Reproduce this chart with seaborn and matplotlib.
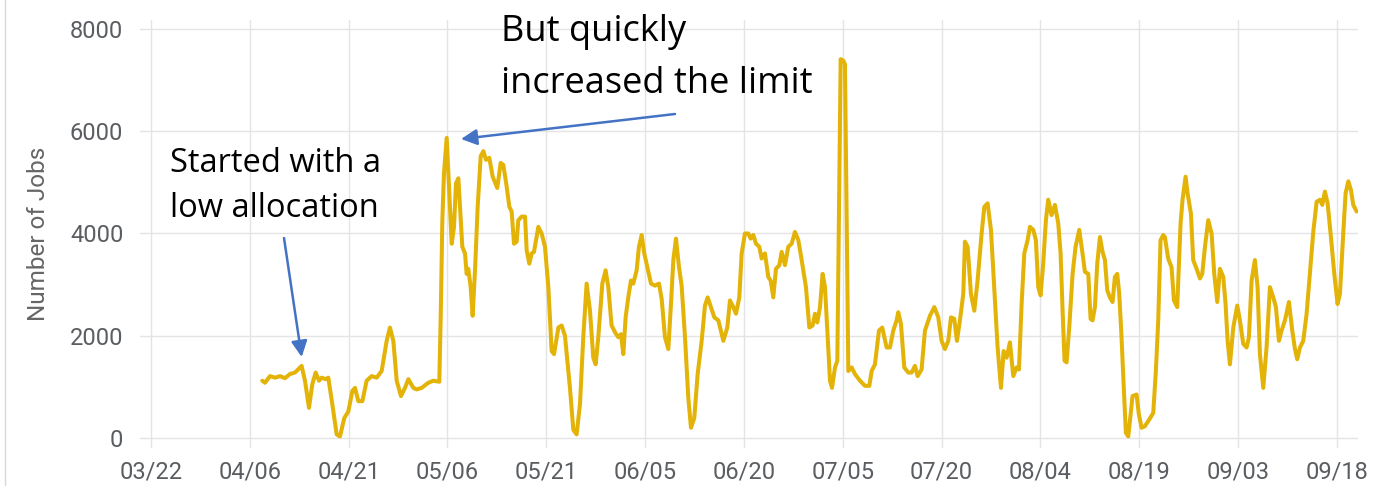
import pandas as pd
import numpy as np
import matplotlib.pyplot as plt
import seaborn as sns
from matplotlib.lines import Line2D

# Data: days after 03/22 and number of jobs
apr_days = [16.89, 17.30, 18.06, 18.82, 19.58, 20.33, 21.09, 21.85, 22.86, 23.37,
            23.98, 24.48, 24.99, 25.50, 25.90, 26.51, 26.91, 27.52, 28.18, 28.68,
            29.34, 29.95, 30.56, 30.96, 31.47, 32.08, 32.73, 33.49, 34.25, 35.01,
            35.77, 36.27, 36.78, 37.29, 37.94, 38.55, 39.06, 39.82, 40.32, 41.08,
            42.09, 42.85, 43.76]
apr_jobs = [1120, 1080, 1210, 1180, 1210, 1170, 1250, 1280, 1410, 1120,
            590, 1050, 1280, 1120, 1180, 1150, 1180, 660, 70, 30,
            390, 520, 920, 980, 720, 720, 1120, 1210, 1180, 1310,
            1900, 2160, 1900, 1120, 820, 980, 1150, 980, 950, 980,
            1080, 1120, 1100]

may_days = [43.96, 44.22, 44.47, 44.88, 45.23, 45.64, 45.99, 46.29, 46.65, 46.90,
            47.25, 47.66, 47.91, 48.16, 48.52, 48.82, 49.18, 49.58, 50.04, 50.44,
            50.85, 51.35, 51.86, 52.56, 53.07, 53.48, 53.98, 54.39, 54.74, 55.10,
            55.50, 55.75, 56.26, 56.77, 57.02, 57.42, 57.78, 58.13, 58.79, 59.29,
            59.80, 60.31, 60.81, 61.17, 61.83, 62.33, 62.83, 63.59, 64.10, 64.60,
            65.11, 65.61, 66.12, 66.63, 67.13, 67.49, 67.89, 68.50, 69.00, 69.41,
            69.91, 70.42, 70.93]
may_jobs = [2300, 4260, 5180, 5870, 4920, 3800, 4130, 4980, 5080, 4520,
            3740, 3610, 3210, 3310, 2950, 2390, 3280, 4520, 5510, 5610,
            5440, 5480, 5110, 4890, 5380, 5340, 4920, 4520, 4430, 3800,
            3840, 4260, 4330, 4330, 3670, 3410, 3610, 3640, 4130, 4000,
            3740, 2950, 1700, 1640, 2160, 2200, 2000, 980, 160, 70,
            660, 1970, 3020, 2490, 1570, 1440, 1970, 3020, 3280, 2950,
            2200, 2070, 1970]

jun_days = [71.33, 71.69, 72.04, 72.44, 72.85, 73.20, 73.71, 74.06, 74.47, 74.87,
            75.38, 75.89, 76.49, 77.10, 77.51, 78.01, 78.52, 78.92, 79.28, 79.68,
            80.14, 80.54, 81.05, 81.55, 81.96, 82.46, 82.97, 83.58, 84.08, 84.49,
            84.99, 85.50, 86.11, 86.87, 87.47, 87.88, 88.38, 88.79, 89.29, 89.65,
            90.15, 90.66, 91.01, 91.42, 91.82, 92.33, 92.68, 93.19, 93.69, 94.05,
            94.45, 94.86, 95.37, 95.72, 96.22, 96.73, 97.24, 97.74, 98.25, 98.76,
            99.41, 99.92, 100.42, 100.78, 101.13, 101.54, 101.94, 102.30, 102.65, 103.06,
            103.36, 103.82, 104.17]
jun_jobs = [2030, 1640, 2360, 2750, 3080, 3020, 3280, 3740, 3970, 3610,
            3310, 3020, 2980, 3020, 2720, 1970, 1740, 2620, 3480, 3900,
            3340, 2980, 1970, 790, 200, 390, 1250, 1900, 2590, 2750,
            2560, 2360, 2300, 1900, 2160, 2690, 2560, 2430, 2750, 3610,
            4000, 4000, 3900, 3970, 3800, 3740, 3510, 3610, 3150, 3080,
            2750, 3310, 3380, 3640, 3380, 3740, 3800, 4030, 3870, 3480,
            2950, 2160, 2200, 2430, 2260, 2560, 3210, 2950, 2100, 1120,
            980, 1380, 1510]

jul_days = [104.47, 104.68, 105.08, 105.33, 105.59, 105.84, 106.35, 106.85, 107.61, 108.37,
            109.03, 109.38, 109.88, 110.49, 110.99, 111.65, 112.16, 112.66, 113.17, 113.42,
            113.83, 114.33, 114.94, 115.45, 115.95, 116.36, 116.96, 117.47, 118.23, 118.89,
            119.49, 120.00, 120.50, 121.01, 121.42, 121.92, 122.33, 122.78, 123.29, 123.54,
            123.95, 124.45, 124.96, 125.46, 126.07, 126.48, 126.98, 127.49, 127.99, 128.50,
            129.01, 129.41, 129.87, 130.37, 130.88, 131.38, 131.74, 132.14, 132.55, 133.05,
            133.41]
jul_jobs = [4920, 7410, 7380, 7310, 4260, 1310, 1380, 1250, 1120, 1020,
            1020, 1310, 1440, 2100, 2160, 1770, 1770, 2100, 2300, 2460,
            2230, 1380, 1280, 1280, 1410, 1210, 1340, 2100, 2390, 2560,
            2360, 1900, 1740, 1900, 2360, 2330, 1900, 2300, 2820, 3840,
            3740, 2820, 2490, 3080, 4000, 4520, 4590, 4070, 2950, 1770,
            980, 1700, 1570, 1870, 1210, 1380, 1340, 2620, 3610, 3870,
            4130]

aug_days = [133.91, 134.31, 134.67, 135.02, 135.42, 135.83, 136.18, 136.69, 137.20, 137.70,
            138.06, 138.36, 138.66, 138.97, 139.37, 139.88, 140.33, 140.89, 141.39, 141.75,
            142.26, 142.61, 142.91, 143.27, 143.62, 144.03, 144.43, 144.79, 145.14, 145.54,
            145.95, 146.30, 146.66, 146.96, 147.31, 147.67, 147.97, 148.33, 148.68, 148.98,
            149.59, 149.94, 150.35, 150.85, 151.51, 152.12, 152.52, 152.88, 153.23, 153.64,
            153.89, 154.39, 154.90, 155.26, 155.76, 156.27, 156.57, 157.03]
aug_jobs = [4070, 3870, 2950, 2790, 3410, 4260, 4660, 4360, 4560, 4200,
            3610, 2490, 1510, 1480, 2160, 3210, 3740, 4070, 3610, 3250,
            3210, 2330, 2300, 2560, 3410, 3930, 3640, 3480, 2890, 2750,
            2660, 3150, 3210, 2820, 1970, 920, 100, 30, 460, 820,
            850, 460, 200, 230, 360, 490, 1310, 2300, 3870, 3970,
            3930, 3510, 3340, 2690, 2560, 4200, 4660, 5110]

sep_days = [157.33, 157.84, 158.19, 158.70, 159.21, 159.56, 159.97, 160.47, 160.98, 161.38,
            161.84, 162.24, 162.75, 163.10, 163.41, 163.76, 164.27, 164.87, 165.28, 165.78,
            166.29, 166.64, 167.05, 167.55, 167.96, 168.31, 168.82, 169.32, 169.83, 170.34,
            170.74, 171.20, 171.60, 172.11, 172.72, 173.22, 173.63, 173.98, 174.39, 174.89,
            175.40, 175.90, 176.41, 176.92, 177.42, 177.78, 178.18, 178.59, 179.09, 179.60,
            180.10, 180.46, 180.96, 181.32, 181.73, 182.13, 182.48, 182.99]
sep_jobs = [4790, 4390, 3480, 3310, 3120, 3210, 3740, 4260, 4000, 3210,
            2660, 3310, 3150, 2620, 1900, 1440, 2160, 2590, 2300, 1840,
            1770, 1970, 3080, 3480, 2950, 1640, 980, 1770, 2950, 2750,
            2560, 1900, 2100, 2300, 2660, 2100, 1740, 1540, 1770, 1900,
            2430, 3210, 4030, 4620, 4660, 4560, 4820, 4590, 3930, 3210,
            2620, 2820, 4000, 4790, 5020, 4850, 4560, 4430]

tick_labels = ['03/22', '04/06', '04/21', '05/06', '05/21', '06/05', '06/20',
               '07/05', '07/20', '08/04', '08/19', '09/03', '09/18']
y_ticks = [0, 2000, 4000, 6000, 8000]

start = pd.Timestamp('2020-03-22')
days = apr_days + may_days + jun_days + jul_days + aug_days + sep_days
jobs = apr_jobs + may_jobs + jun_jobs + jul_jobs + aug_jobs + sep_jobs
df = pd.DataFrame({'Date': start + pd.to_timedelta(days, unit='D'), 'Jobs': jobs})

sns.set_theme(style='whitegrid')
plt.rcParams['font.family'] = ['Roboto', 'DejaVu Sans']

W, H = 1378, 486
fig = plt.figure(figsize=(W / 100, H / 100), dpi=100)
ax = fig.add_axes([140 / W, 1 - 448 / H, 1218 / W, 428 / H])

sns.lineplot(data=df, x='Date', y='Jobs', ax=ax, color='#E3B308', linewidth=2.9)

tick_pos = pd.date_range(start, periods=len(tick_labels), freq='15D')
ax.set_xticks(tick_pos)
ax.set_xticklabels(tick_labels)
ax.set_xlim(start - pd.Timedelta(days=1.67), start + pd.Timedelta(days=183.2))
ax.set_yticks(y_ticks)
ax.set_yticklabels([str(v) for v in y_ticks])
ax.set_ylim(-196, 8176)

for s in ax.spines.values():
    s.set_visible(False)
ax.grid(True, color='#e4e4e4', linewidth=1.0)
ax.tick_params(axis='both', length=0, labelsize=17, colors='#5a5d61')
ax.tick_params(axis='x', pad=9)
ax.tick_params(axis='y', pad=12)
ax.set_xlabel('')
ax.set_ylabel('Number of Jobs', fontsize=17.5, color='#666666', labelpad=14)

# callouts
def fig_px(x, y):
    return x / W, 1 - y / H

note_font = ['Open Sans', 'DejaVu Sans']
fig.text(*fig_px(170, 172), 'Started with a', fontsize=23.5, family=note_font, color='black', va='baseline')
fig.text(*fig_px(170, 217), 'low allocation', fontsize=23.5, family=note_font, color='black', va='baseline')
fig.text(*fig_px(501, 41), 'But quickly', fontsize=26, family=note_font, color='black', va='baseline')
fig.text(*fig_px(501, 93), 'increased the limit', fontsize=26, family=note_font, color='black', va='baseline')

arrow = dict(arrowstyle='-|>', color='#4472C4', lw=1.8, mutation_scale=24, shrinkA=0, shrinkB=0)
ax.annotate('', xy=(start + pd.Timedelta(days=22.87), 1584), xycoords='data',
            xytext=(284, H - 238), textcoords='figure pixels', arrowprops=arrow)
ax.annotate('', xy=(start + pd.Timedelta(days=47.05), 5848), xycoords='data',
            xytext=(675, H - 114), textcoords='figure pixels', arrowprops=arrow)

fig.add_artist(Line2D([5 / W, 5 / W], [0, 1], color='#d8d8d8', linewidth=1))

fig.savefig('out.png', dpi=100)
